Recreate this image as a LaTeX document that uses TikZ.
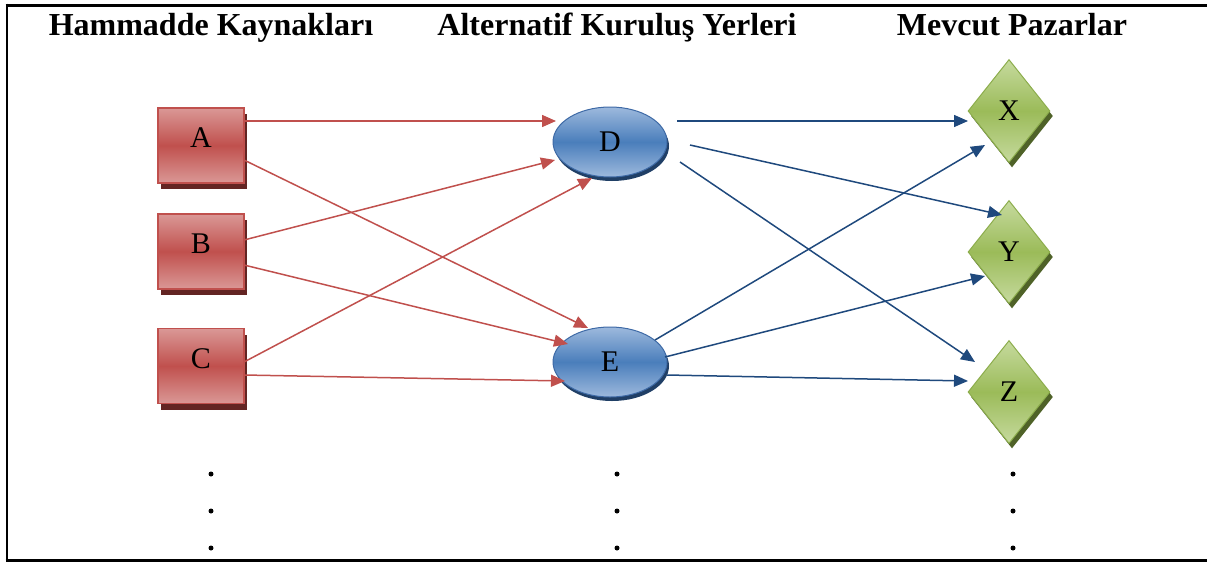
\documentclass[tikz,border=0pt]{standalone}
\usepackage{fontspec}
\setmainfont{Liberation Serif}
\usetikzlibrary{arrows.meta,shapes.geometric,shadows,calc}
\definecolor{redM}{HTML}{C0504D}
\definecolor{redL}{HTML}{DA9896}
\definecolor{redS}{HTML}{632523}
\definecolor{redA}{HTML}{C0504D}
\definecolor{bluM}{HTML}{4A7EBB}
\definecolor{bluL}{HTML}{9DB9DD}
\definecolor{bluD}{HTML}{3E6AA6}
\definecolor{bluS}{HTML}{203F66}
\definecolor{bluA}{HTML}{1F497D}
\definecolor{grnM}{HTML}{9BBB59}
\definecolor{grnL}{HTML}{C6DA9E}
\definecolor{grnD}{HTML}{8CAD4C}
\definecolor{grnS}{HTML}{4F6228}
\tikzset{
  srcbox/.style={rectangle, minimum width=86pt, minimum height=75pt, inner sep=0pt,
    draw=redM, line width=1.5pt, top color=redL, bottom color=redL, middle color=redM,
    drop shadow={shadow xshift=3pt, shadow yshift=-6pt, fill=redS, opacity=1},
    font=\fontsize{30}{30}\selectfont, text height=20pt, text depth=16pt},
  locell/.style={ellipse, minimum width=114pt, minimum height=70pt, inner sep=0pt,
    draw=bluD, line width=1pt, top color=bluL, bottom color=bluL, middle color=bluM,
    drop shadow={shadow xshift=2pt, shadow yshift=-4pt, fill=bluS, opacity=1},
    font=\fontsize{30}{30}\selectfont},
  mkt/.style={diamond, minimum width=82pt, minimum height=103pt, inner sep=0pt,
    draw=grnD, line width=1pt, top color=grnL, bottom color=grnL, middle color=grnM,
    drop shadow={shadow xshift=3pt, shadow yshift=-5pt, fill=grnS, opacity=1},
    font=\fontsize{30}{30}\selectfont},
  hdr/.style={font=\fontsize{32}{32}\selectfont\bfseries, inner sep=0pt, anchor=base},
  redarr/.style={draw=redA, line width=1.5pt, -{Triangle[length=14pt,width=12pt]}},
  bluarr/.style={draw=bluA, line width=1.5pt, -{Triangle[length=14pt,width=12pt]}},
  vdot/.style={circle, fill=black, inner sep=0pt, minimum size=5pt},
}
\begin{document}
\begin{tikzpicture}[x=1pt,y=-1pt]
\useasboundingbox (0,0) rectangle (1207,563);
% frame
\draw[line width=3pt] (5.5,5) -- (1207,5);
\draw[line width=3pt] (5.5,560) -- (1207,560);
\draw[line width=2pt] (6.5,3.5) -- (6.5,561.5);
% headers
\node[hdr] (h1) at (211,35) {Hammadde Kaynakları};
\node[hdr] (h2) at (617,35) {Alternatif Kuruluş Yerleri};
\node[hdr] (h3) at (1012,35) {Mevcut Pazarlar};
% nodes
\node[srcbox] (A) at (201,145.5) {A};
\node[srcbox] (B) at (201,251.5) {B};
\node[srcbox] (C) at (201,366) {C};
\node[locell] (D) at (610,142) {D};
\node[locell] (E) at (610,362) {E};
\node[mkt] (X) at (1009,111) {X};
\node[mkt] (Y) at (1009,252) {Y};
\node[mkt] (Z) at (1009,392) {Z};
% red arrows
\draw[redarr] ($(A.center)+(43,-24.5)$) -- ($(D.center)+(-54,-21)$);
\draw[redarr] ($(A.center)+(43,14.5)$) -- ($(E.center)+(-22,-34)$);
\draw[redarr] ($(B.center)+(43,-11.5)$) -- ($(D.center)+(-55,18)$);
\draw[redarr] ($(B.center)+(43,13.5)$) -- ($(E.center)+(-42,-18)$);
\draw[redarr] ($(C.center)+(43,-4)$) -- ($(D.center)+(-18,36)$);
\draw[redarr] ($(C.center)+(43,9)$) -- ($(E.center)+(-45,19)$);
% blue arrows
\draw[bluarr] ($(D.center)+(67,-21)$) -- ($(X.center)+(-41,10)$);
\draw[bluarr] ($(D.center)+(80,3)$) -- ($(Y.center)+(-7,-37)$);
\draw[bluarr] ($(D.center)+(70,20)$) -- ($(Z.center)+(-34,-30)$);
\draw[bluarr] ($(E.center)+(45,-22)$) -- ($(X.center)+(-24,34)$);
\draw[bluarr] ($(E.center)+(55,-5)$) -- ($(Y.center)+(-24,24)$);
\draw[bluarr] ($(E.center)+(57,13)$) -- ($(Z.center)+(-41,-11)$);
% dots
\foreach \xx/\nm in {211/a,617/b,1013/c}{
  \node[vdot] (\nm1) at (\xx,474) {};
  \node[vdot] (\nm2) at (\xx,511) {};
  \node[vdot] (\nm3) at (\xx,548) {};
}
\end{tikzpicture}
\end{document}
